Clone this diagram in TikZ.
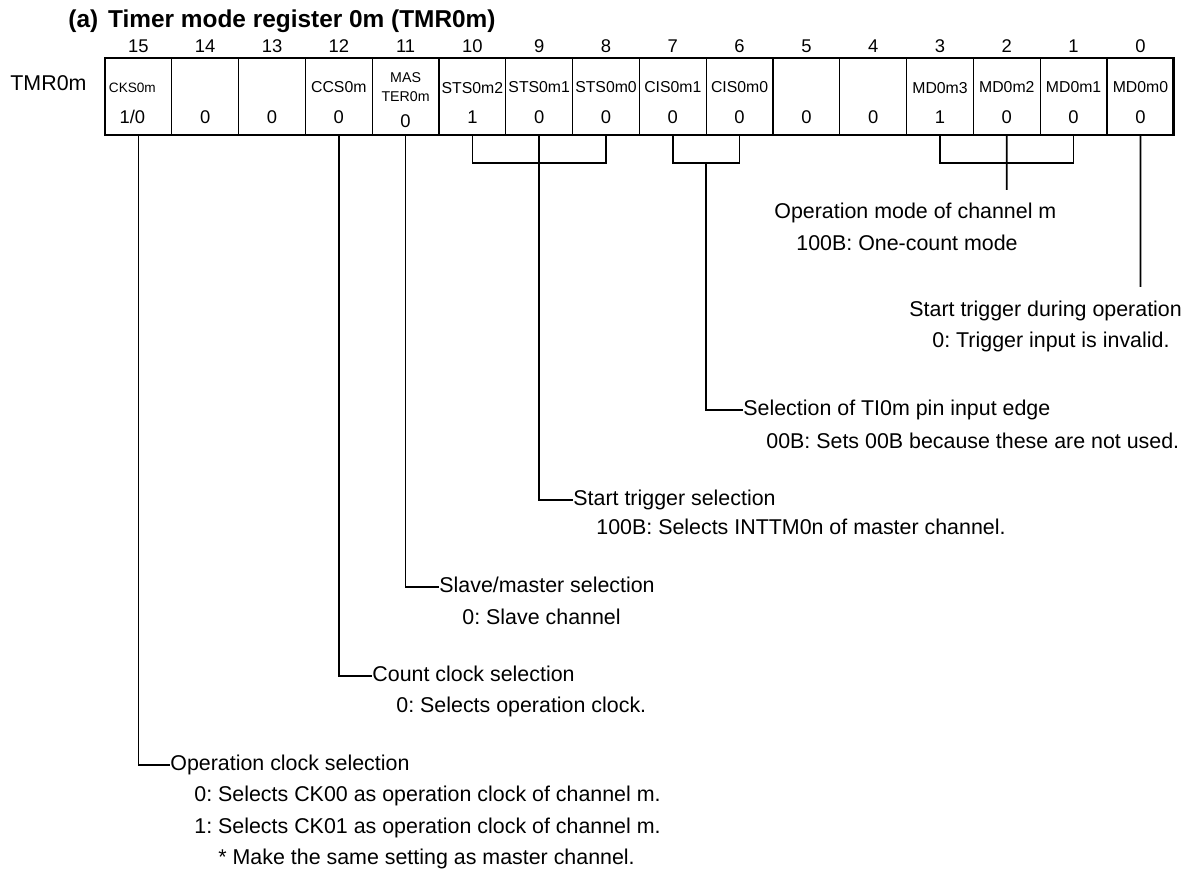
\documentclass[tikz,border=0pt]{standalone}
\usepackage{fontspec}
\setmainfont{Liberation Sans}
\usepackage{tikz}
\usetikzlibrary{positioning}
\frenchspacing
\newcommand{\bodyfont}{\fontsize{10.7}{12.8}\selectfont}
\newcommand{\titlefont}{\fontsize{12.2}{14.6}\selectfont\bfseries}
\newcommand{\valfont}{\fontsize{9.2}{11}\selectfont}
\newcommand{\fldfont}{\fontsize{7.9}{9.5}\selectfont}
\newcommand{\fldsmall}{\fontsize{7.1}{8.5}\selectfont}
\newcommand{\fldtiny}{\fontsize{6.8}{8.2}\selectfont}
\newcommand{\regbit}[2]{\shortstack{{\fldfont #1}\\[5.9pt]#2}}

\begin{document}
\begin{tikzpicture}[x=0.5pt, y=-0.5pt,
    cell/.style={draw, line width=0.65pt, minimum width=33.4pt, minimum height=38.5pt,
      inner sep=0pt, outer sep=0pt, text height=32.9pt, text depth=5.6pt, font=\valfont},
    mascell/.style={cell, text height=34.8pt, text depth=3.7pt},
    bitno/.style={font=\valfont, inner sep=0pt},
    txt/.style={font=\bodyfont, anchor=west, inner sep=0pt, text height=7.8pt, text depth=2.25pt},
    conn/.style={line width=0.85pt},
    regframe/.style={line width=1.35pt}
  ]
    \useasboundingbox (0,0) rectangle (1188,871);
    \node[font=\titlefont, anchor=base west, inner sep=0pt] (title) at (68,28)
      {(a)\hspace{5pt}Timer mode register 0m (TMR0m)};
    \node[txt] (regname) at (10,85) {TMR0m};
    % register cells, bit 15 on the left
    \node[cell] (c15) at (138.4,96.5) {\shortstack{{\fldtiny CKS0m\kern6pt}\\[5.9pt]1/0\kern6pt}};
    \node[cell, right=0pt of c15] (c14) {\regbit{}{0}};
    \node[cell, right=0pt of c14] (c13) {\regbit{}{0}};
    \node[cell, right=0pt of c13] (c12) {\regbit{CCS0m}{0}};
    \node[mascell, right=0pt of c12] (c11) {\shortstack{{\fldsmall\shortstack{MAS\\[1.4pt]TER0m}}\\[3.65pt]0}};
    \node[cell, right=0pt of c11] (c10) {\regbit{STS0m2}{1}};
    \node[cell, right=0pt of c10] (c9) {\regbit{STS0m1}{0}};
    \node[cell, right=0pt of c9] (c8) {\regbit{STS0m0}{0}};
    \node[cell, right=0pt of c8] (c7) {\regbit{CIS0m1}{0}};
    \node[cell, right=0pt of c7] (c6) {\regbit{CIS0m0}{0}};
    \node[cell, right=0pt of c6] (c5) {\regbit{}{0}};
    \node[cell, right=0pt of c5] (c4) {\regbit{}{0}};
    \node[cell, right=0pt of c4] (c3) {\regbit{MD0m3}{1}};
    \node[cell, right=0pt of c3] (c2) {\regbit{MD0m2}{0}};
    \node[cell, right=0pt of c2] (c1) {\regbit{MD0m1}{0}};
    \node[cell, right=0pt of c1] (c0) {\regbit{MD0m0}{0}};
    \draw[regframe] (c15.north west) rectangle (c0.south east);
    % bit numbers
    \node[bitno, above=2.6pt of c15] (n15) {15};
    \node[bitno, above=2.6pt of c14] (n14) {14};
    \node[bitno, above=2.6pt of c13] (n13) {13};
    \node[bitno, above=2.6pt of c12] (n12) {12};
    \node[bitno, above=2.6pt of c11] (n11) {11};
    \node[bitno, above=2.6pt of c10] (n10) {10};
    \node[bitno, above=2.6pt of c9] (n9) {9};
    \node[bitno, above=2.6pt of c8] (n8) {8};
    \node[bitno, above=2.6pt of c7] (n7) {7};
    \node[bitno, above=2.6pt of c6] (n6) {6};
    \node[bitno, above=2.6pt of c5] (n5) {5};
    \node[bitno, above=2.6pt of c4] (n4) {4};
    \node[bitno, above=2.6pt of c3] (n3) {3};
    \node[bitno, above=2.6pt of c2] (n2) {2};
    \node[bitno, above=2.6pt of c1] (n1) {1};
    \node[bitno, above=2.6pt of c0] (n0) {0};
    % descriptions
    \node[txt] (hOpMode) at (774,213) {Operation mode of channel m};
    \node[txt] (dOpMode) at (796,245) {100B: One-count mode};
    \node[txt] (hTrig) at (909,311) {Start trigger during operation};
    \node[txt] (dTrig) at (932,342) {0: Trigger input is invalid.};
    \node[txt] (hEdge) at (743,410) {Selection of TI0m pin input edge};
    \node[txt] (dEdge) at (766,443) {00B: Sets 00B because these are not used.};
    \node[txt] (hStart) at (573,500) {Start trigger selection};
    \node[txt] (dStart) at (596,529) {100B: Selects INTTM0n of master channel.};
    \node[txt] (hSlave) at (439,587) {Slave/master selection};
    \node[txt] (dSlave) at (462,619) {0: Slave channel};
    \node[txt] (hCount) at (372,676) {Count clock selection};
    \node[txt] (dCount) at (396,707) {0: Selects operation clock.};
    \node[txt] (hOpClk) at (170,765) {Operation clock selection};
    \node[txt] (dOpClk0) at (194,796) {0: Selects CK00 as operation clock of channel m.};
    \node[txt] (dOpClk1) at (194,828) {1: Selects CK01 as operation clock of channel m.};
    \node[txt] (dNote) at (218,859) {* Make the same setting as master channel.};
    % connectors
    \coordinate (stsJoin) at (539.2,163);
    \coordinate (cisJoin) at (706.2,163);
    \coordinate (mdJoin) at (1006.8,163);
    \coordinate (mdEnd) at (1006.8,190);
    \coordinate (trigEnd) at (1140.4,287);
    \draw[conn] (c15.south) |- (hOpClk.west);
    \draw[conn] (c12.south) |- (hCount.west);
    \draw[conn] (c11.south) |- (hSlave.west);
    \draw[conn] (c10.south) |- (stsJoin) -| (c8.south);
    \draw[conn] (c9.south) |- (hStart.west);
    \draw[conn] (c7.south) |- (cisJoin) -| (c6.south);
    \draw[conn] (cisJoin) |- (hEdge.west);
    \draw[conn] (c3.south) |- (mdJoin) -| (c1.south);
    \draw[conn] (c2.south) -- (mdEnd);
    \draw[conn] (c0.south) -- (trigEnd);
  \end{tikzpicture}
\end{document}
